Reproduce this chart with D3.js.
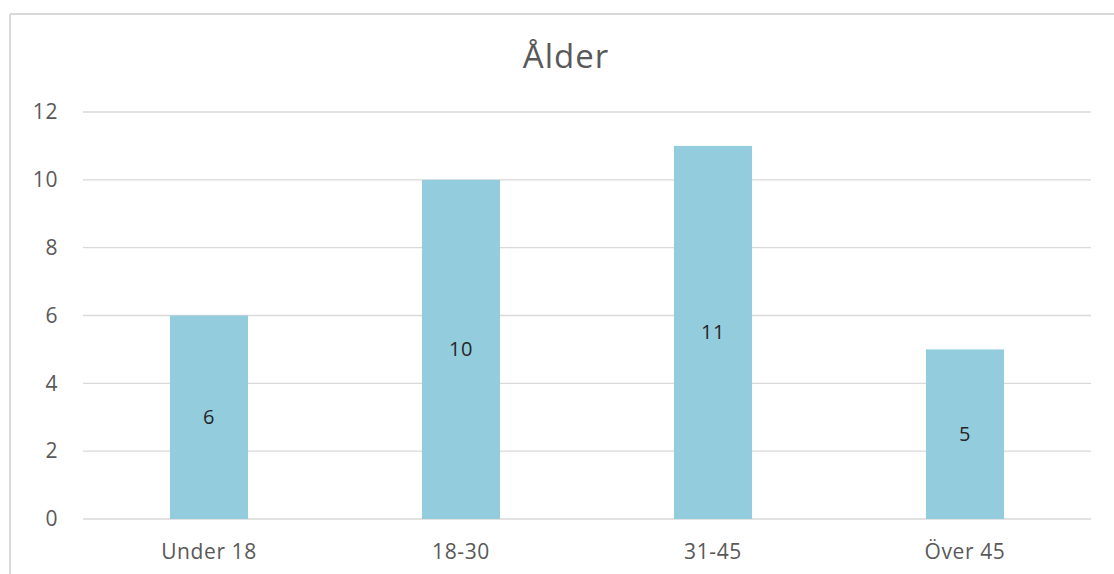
<!DOCTYPE html>
<html>
<head>
<meta charset="utf-8">
<script src="https://cdn.jsdelivr.net/npm/d3@7"></script>
<style>
  html, body { margin: 0; padding: 0; background: #fff; }
  svg { display: block; font-family: "Open Sans", "Noto Sans", sans-serif; }
</style>
</head>
<body>
<svg id="chart" width="1114" height="574"></svg>
<script>
// Age groups and respondent counts
const categories = ["Under 18", "18-30", "31-45", "Över 45"];
const values = [6, 10, 11, 5];
const yTicks = [0, 2, 4, 6, 8, 10, 12];
const title = "Ålder";

const svg = d3.select("#chart");
const W = 1114, H = 574;
const margin = { left: 83, right: 23, top: 112, bottom: 55 };
const FONT = "'Open Sans', 'Noto Sans', sans-serif";

// Chart frame: left and top edges
svg.append("line").attr("x1", 10).attr("x2", 10).attr("y1", 14).attr("y2", H)
  .attr("stroke", "#d9d9d9").attr("stroke-width", 2);
svg.append("line").attr("x1", 10).attr("x2", W).attr("y1", 14).attr("y2", 14)
  .attr("stroke", "#d9d9d9").attr("stroke-width", 2);

const x = d3.scaleBand().domain(categories)
  .range([margin.left, W - margin.right]).paddingInner(0.69).paddingOuter(0.345);
const y = d3.scaleLinear().domain([0, 12]).range([H - margin.bottom, margin.top]);

// Gridlines
svg.append("g").selectAll("line").data(yTicks).join("line")
  .attr("x1", margin.left).attr("x2", W - margin.right)
  .attr("y1", d => y(d)).attr("y2", d => y(d))
  .attr("stroke", "#d9d9d9").attr("stroke-width", 1.3);

// Y axis labels
const yAxis = d3.axisLeft(y).tickValues(yTicks).tickSize(0).tickPadding(25);
svg.append("g").attr("transform", `translate(${margin.left},0)`).call(yAxis)
  .call(g => g.select(".domain").remove())
  .selectAll("text").attr("fill", "#595959").attr("font-size", 21)
  .attr("letter-spacing", 0.6).attr("font-family", FONT);

// X axis labels
const xAxis = d3.axisBottom(x).tickSize(0).tickPadding(25);
svg.append("g").attr("transform", `translate(0,${y(0)})`).call(xAxis)
  .call(g => g.select(".domain").remove())
  .selectAll("text").attr("fill", "#595959").attr("font-size", 21)
  .attr("letter-spacing", 0.6).attr("font-family", FONT);

// Bars
svg.append("g").selectAll("rect").data(values).join("rect")
  .attr("x", (d, i) => x(categories[i]))
  .attr("width", x.bandwidth())
  .attr("y", d => y(d))
  .attr("height", d => y(0) - y(d))
  .attr("fill", "#93cddd");

// Value labels at bar centres
svg.append("g").selectAll("text").data(values).join("text")
  .attr("x", (d, i) => x(categories[i]) + x.bandwidth() / 2)
  .attr("y", d => (y(d) + y(0)) / 2)
  .attr("dy", "0.35em")
  .attr("text-anchor", "middle")
  .attr("font-size", 20)
  .attr("letter-spacing", 0.6)
  .attr("fill", "#262626")
  .text(d => d);

// Title
svg.append("text").attr("x", 566).attr("y", 68)
  .attr("text-anchor", "middle").attr("font-size", 33)
  .attr("letter-spacing", 1)
  .attr("fill", "#595959").text(title);
</script>
</body>
</html>
